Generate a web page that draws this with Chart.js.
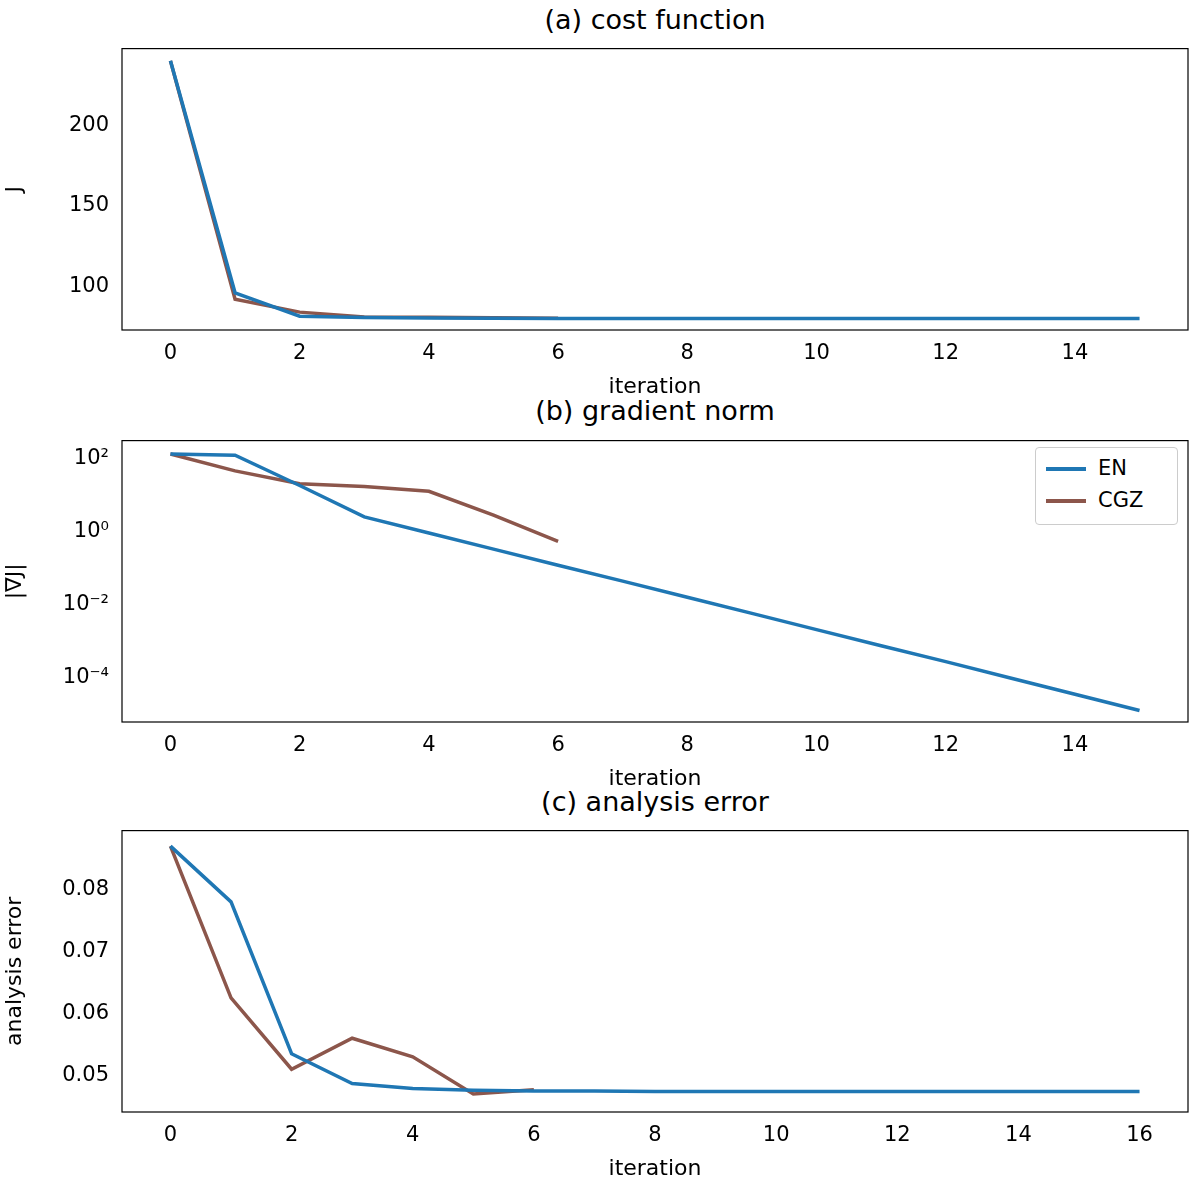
<!DOCTYPE html>
<html>
<head>
<meta charset="utf-8">
<script src="https://cdn.jsdelivr.net/npm/chart.js@4/dist/chart.umd.min.js"></script>
<style>
body { margin: 0; background: #fff; font-family: "DejaVu Sans", sans-serif; }
.panel { position: absolute; left: 0; width: 1200px; height: 370px; }
.title { position: absolute; left: 122px; width: 1066px; text-align: center; font-size: 27px; color: #000; }
.legend { position: absolute; left: 1035px; top: 447px; width: 141px; height: 76px; border: 1px solid #ccc; border-radius: 4px; background: #fff; font-size: 21px; }
.legend div { position: absolute; left: 10px; }
.legend span { display: inline-block; width: 40px; height: 4px; vertical-align: middle; margin-right: 12px; }
</style>
</head>
<body>
<div class="title" style="top:4px">(a) cost function</div>
<div class="title" style="top:395px">(b) gradient norm</div>
<div class="title" style="top:786px">(c) analysis error</div>
<div class="panel" style="top:30px"><canvas id="c1"></canvas></div>
<div class="panel" style="top:422px"><canvas id="c2"></canvas></div>
<div class="panel" style="top:812px"><canvas id="c3"></canvas></div>
<div class="legend">
  <div style="top:8px"><span style="background:#1f77b4"></span>EN</div>
  <div style="top:40px"><span style="background:#8c564b"></span>CGZ</div>
</div>
<script>
var costEN = [240, 96, 81.5, 80.6, 80.4, 80.2, 80.1, 80, 80, 80, 80, 80, 80, 80, 80, 80];
var costCGZ = [240, 92, 84, 81, 80.8, 80.5, 80.2];
var gradEN = [130, 120, 18, 2.5, 0.91, 0.33, 0.12, 0.044, 0.016, 0.0058, 0.0021, 0.00076, 0.00028, 0.0001, 0.000036, 0.000013];
var gradCGZ = [130, 45, 20, 17, 12.5, 2.8, 0.54];
var errEN = [0.087, 0.078, 0.0535, 0.0487, 0.0479, 0.0476, 0.0475, 0.0475, 0.0474, 0.0474, 0.0474, 0.0474, 0.0474, 0.0474, 0.0474, 0.0474, 0.0474];
var errCGZ = [0.087, 0.0625, 0.051, 0.056, 0.053, 0.047, 0.0477];
var xTicksA = [0, 2, 4, 6, 8, 10, 12, 14];
var xTicksC = [0, 2, 4, 6, 8, 10, 12, 14, 16];
var yTicksA = [100, 150, 200];
var yTicksB = [1e-4, 1e-2, 1, 100];
var yTicksC = [0.05, 0.06, 0.07, 0.08];
var supLabels = { "-4": "10\u207B\u2074", "-2": "10\u207B\u00B2", "0": "10\u2070", "2": "10\u00B2" };

Chart.defaults.font.family = "DejaVu Sans";
Chart.defaults.color = "#000";

var frame = {
    id: "frame",
    afterDraw: function (chart) {
        var a = chart.chartArea, ctx = chart.ctx;
        ctx.save();
        ctx.strokeStyle = "#000";
        ctx.lineWidth = 1.2;
        ctx.strokeRect(a.left, a.top, a.right - a.left, a.bottom - a.top);
        ctx.restore();
    }
};

function pts(arr) {
    return arr.map(function (v, i) { return { x: i, y: v }; });
}

function makeChart(id, en, cgz, xmin, xmax, xticks, yopts, ylabel) {
    var y = Object.assign({
        grid: { display: false, drawTicks: true, tickLength: 7, tickColor: "#000" },
        border: { display: false },
        ticks: { font: { size: 21 }, padding: 6 },
        title: { display: true, text: ylabel, font: { size: 22 }, padding: 2 },
        afterFit: function (s) { s.width = 122; }
    }, yopts);
    new Chart(document.getElementById(id), {
        type: "line",
        data: {
            datasets: [
                { label: "EN", data: pts(en), borderColor: "#1f77b4", borderWidth: 3.5, pointRadius: 0, tension: 0 },
                { label: "CGZ", data: pts(cgz), borderColor: "#8c564b", borderWidth: 3.5, pointRadius: 0, tension: 0 }
            ]
        },
        options: {
            animation: false,
            responsive: true,
            maintainAspectRatio: false,
            layout: { padding: { top: 10, right: 12, left: 0, bottom: 0 } },
            plugins: { legend: { display: false }, tooltip: { enabled: false } },
            scales: {
                x: {
                    type: "linear", min: xmin, max: xmax,
                    grid: { display: false, drawTicks: true, tickLength: 7, tickColor: "#000" },
                    border: { display: false },
                    ticks: { font: { size: 21 }, padding: 4, maxRotation: 0 },
                    title: { display: true, text: "iteration", font: { size: 22 }, padding: 0 },
                    afterBuildTicks: function (s) { s.ticks = xticks.map(function (v) { return { value: v }; }); },
                    afterFit: function (s) { s.height = 70; }
                },
                y: y
            }
        },
        plugins: [frame]
    });
}

makeChart("c1", costEN, costCGZ, -0.75, 15.75, xTicksA, {
    min: 72.9, max: 247.6,
    afterBuildTicks: function (s) { s.ticks = yTicksA.map(function (v) { return { value: v }; }); }
}, "J");

makeChart("c2", gradEN, gradCGZ, -0.75, 15.75, xTicksA, {
    type: "logarithmic", min: Math.pow(10, -5.2), max: Math.pow(10, 2.48),
    afterBuildTicks: function (s) { s.ticks = yTicksB.map(function (v) { return { value: v }; }); }
}, "|\u2207J|");
Chart.getChart("c2").options.scales.y.ticks.callback = function (v) {
    return supLabels[String(Math.round(Math.log10(v)))];
};
Chart.getChart("c2").update();

makeChart("c3", errEN, errCGZ, -0.8, 16.8, xTicksC, {
    min: 0.0441, max: 0.0895,
    afterBuildTicks: function (s) { s.ticks = yTicksC.map(function (v) { return { value: v }; }); },
    ticks: { font: { size: 21 }, padding: 6, callback: function (v) { return v.toFixed(2); } }
}, "analysis error");
</script>
</body>
</html>
